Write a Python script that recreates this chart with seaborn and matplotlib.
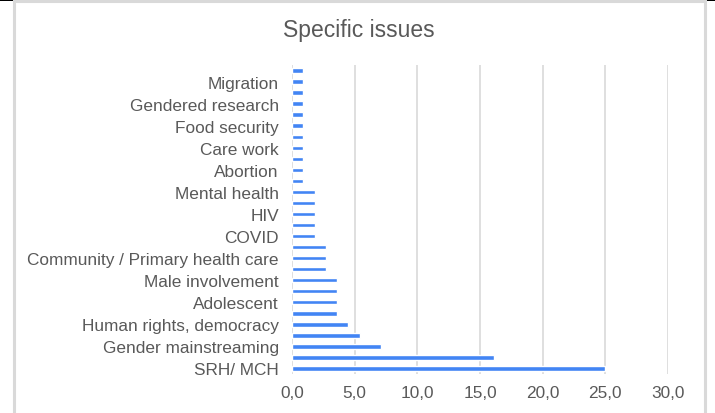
import seaborn as sns
import pandas as pd
import matplotlib.pyplot as plt
from matplotlib.patches import Rectangle

# categories top -> bottom; Excel hid every other label, names unknown
categories = [
    "(unlabelled 1)", "Migration", "(unlabelled 2)", "Gendered research",
    "(unlabelled 3)", "Food security", "(unlabelled 4)", "Care work",
    "(unlabelled 5)", "Abortion", "(unlabelled 6)", "Mental health",
    "(unlabelled 7)", "HIV", "(unlabelled 8)", "COVID",
    "(unlabelled 9)", "Community / Primary health care", "(unlabelled 10)",
    "Male involvement", "(unlabelled 11)", "Adolescent", "(unlabelled 12)",
    "Human rights, democracy", "(unlabelled 13)", "Gender mainstreaming",
    "(unlabelled 14)", "SRH/ MCH",
]
values = [
    0.9, 0.9, 0.9, 0.9, 0.9, 0.9, 0.9, 0.9, 0.9, 0.9, 0.9,
    1.8, 1.8, 1.8, 1.8, 1.8,
    2.7, 2.7, 2.7,
    3.6, 3.6, 3.6, 3.6,
    4.5, 5.4, 7.1, 16.1, 25.0,
]
tick_labels = [c if not c.startswith("(unlabelled") else "" for c in categories]
x_ticks = [0, 5, 10, 15, 20, 25, 30]

df = pd.DataFrame({"issue": categories, "share": values})

sns.set_style("white")
plt.rcParams["font.family"] = ["Liberation Sans", "DejaVu Sans"]
grey = "#595959"

fig = plt.figure(figsize=(7.15, 4.14), dpi=100)
ax = fig.add_axes([292 / 715, 1 - 375 / 414, (668 - 292) / 715, (375 - 66) / 414])

sns.barplot(data=df, x="share", y="issue", order=categories, orient="h",
            color="#4285f4", width=0.4, saturation=1, ax=ax)

ax.set_xlim(0, 30)
ax.set_xticks(x_ticks)
ax.set_xticklabels([f"{t:.1f}".replace(".", ",") for t in x_ticks])
ax.set_yticks(range(len(categories)))
ax.set_yticklabels(tick_labels)
ax.tick_params(axis="both", length=0, labelsize=12.4, colors=grey)
ax.tick_params(axis="y", pad=9.5)
ax.tick_params(axis="x", pad=8)
ax.set_xlabel("")
ax.set_ylabel("")
ax.grid(axis="x", color="#d9d9d9", linewidth=1.2)
ax.set_axisbelow(True)
for s in ax.spines.values():
    s.set_visible(False)

fig.text(359 / 715, 1 - 30 / 414, "Specific issues", ha="center", va="center",
         fontsize=16.5, color=grey)

# chart area border
fig.patches.append(Rectangle((0, 1 - 1.5 / 414), 1, 1.5 / 414, transform=fig.transFigure,
                             facecolor="black", edgecolor="none", zorder=-1))
fig.patches.append(Rectangle((13.5 / 715, -0.02), (705 - 13.5) / 715, 1.02 - 1.5 / 414,
                             transform=fig.transFigure, facecolor="none",
                             edgecolor="#d9d9d9", linewidth=2.2, zorder=3))

fig.savefig("out.png", dpi=100)
